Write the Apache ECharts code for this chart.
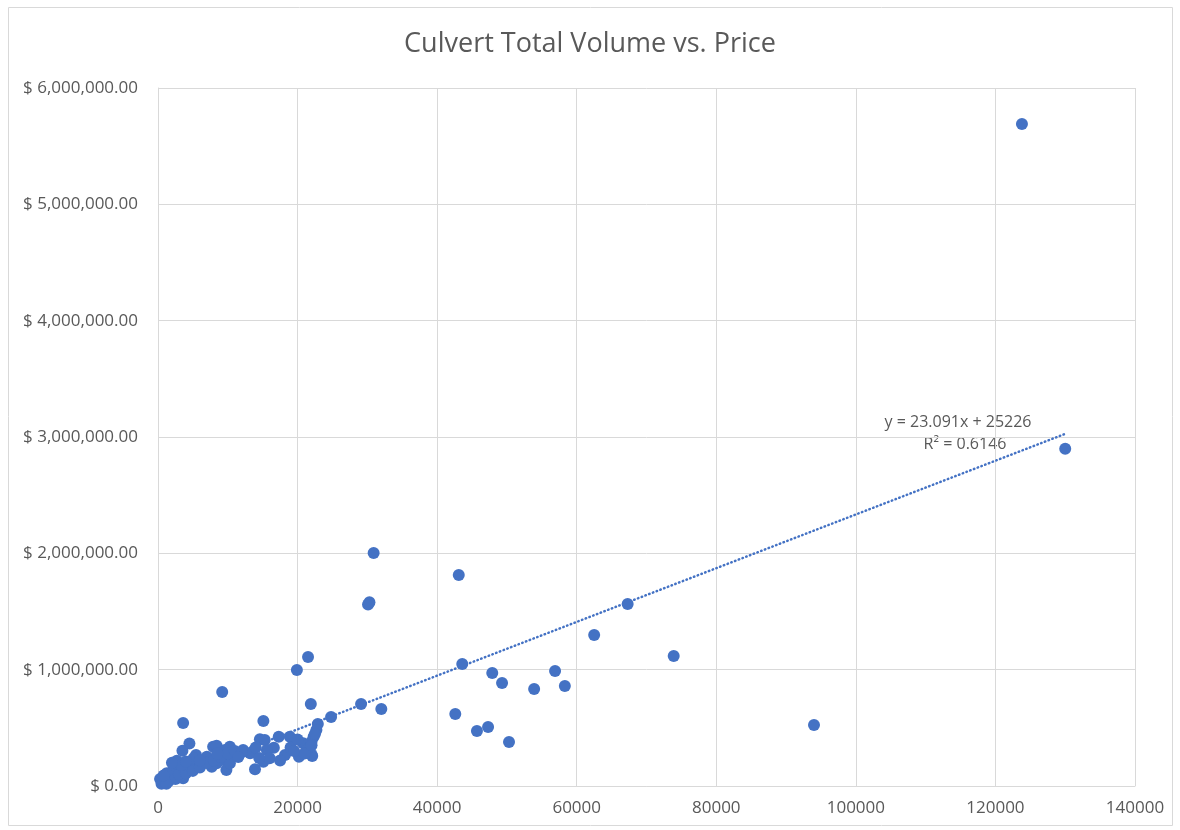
<!DOCTYPE html>
<html><head><meta charset="utf-8">
<script src="https://cdn.jsdelivr.net/npm/echarts@6/dist/echarts.min.js"></script>
<style>html,body{margin:0;padding:0;background:#fff}#c{width:1180px;height:830px}</style>
</head><body><div id="c"></div>
<script>
const titleText = 'Culvert Total Volume vs. Price';
const volumes = [123800,130000,94000,73900,67300,62500,56900,58300,53900,49300,47900,50300,47300,45700,42600,43600,43100,30900,30100,30300,32000,29100,24800,22900,22700,21500,19900,21900,3600,9200,15100,
4500,3500,5450,2700,7900,8400,10300,12200,14600,15300,16600,17300,18900,18200,13900,20200,22100,20800,22300,22000,21800,21300,15600,13200,15100,16000,10800,9400,8400,9800,7700,6500,5500,4600,3600,2700,3600,1700,1000,760,1250,2200,5100,7000,10300,9600,
500,300,1500,2000,2500,3000,4000,5000,6000,7000,8000,9000,10000,11000,12000,14000,19000,20000,21000,22000,1200,800,3300,6000,8500,11500,14500,17500,19500,22500,2000,4000,22000];
const prices = [5690000,2900000,524000,1118000,1565000,1298000,989000,860000,834000,886000,972000,378000,507000,473000,619000,1049000,1814000,2003000,1560000,1580000,662000,705000,593000,533000,481000,1109000,997000,705000,542000,808000,559000,
366000,304000,267000,218000,338000,345000,338000,310000,401000,395000,329000,424000,424000,267000,143000,252000,258000,367000,424000,270000,338000,310000,310000,281000,209000,238000,252000,224000,195000,138000,166000,195000,181000,152000,138000,123000,66000,95000,66000,37000,109000,143000,238000,252000,195000,310000,
20000,60000,40000,80000,60000,100000,110000,130000,160000,200000,220000,250000,280000,300000,290000,330000,330000,400000,280000,380000,20000,90000,180000,220000,280000,250000,240000,220000,300000,450000,200000,210000,350000];
const xTicks = [0,20000,40000,60000,80000,100000,120000,140000];
const yTicks = [0,1000000,2000000,3000000,4000000,5000000,6000000];
const trendSlope = 23.091, trendIntercept = 25226, trendR2 = 0.6146;

const pts = volumes.map((v,i)=>[v, prices[i]]);
const xMinD = Math.min(...volumes), xMaxD = Math.max(...volumes);
const trend = [[xMinD, trendSlope*xMinD+trendIntercept],[xMaxD, trendSlope*xMaxD+trendIntercept]];
function money(v){const s=Math.round(v).toString().replace(/\B(?=(\d{3})+(?!\d))/g,',');return '$ '+s+'.00';}
const FONT = "'Open Sans', sans-serif";
const chart = echarts.init(document.getElementById('c'));
chart.setOption({
  animation:false,
  title:{text:titleText,left:'center',top:26,textStyle:{fontFamily:FONT,fontSize:27,fontWeight:'normal',color:'#595959'}},
  grid:{left:158,right:45,top:88,bottom:44},
  xAxis:{type:'value',min:xTicks[0],max:xTicks[xTicks.length-1],interval:20000,
    axisLine:{show:true,lineStyle:{color:'#d9d9d9'}},axisTick:{show:false},
    splitLine:{show:true,lineStyle:{color:'#d9d9d9'}},
    axisLabel:{margin:14,fontFamily:FONT,fontSize:17,color:'#595959',formatter:v=>String(v)}},
  yAxis:{type:'value',min:yTicks[0],max:yTicks[yTicks.length-1],interval:1000000,
    axisLine:{show:true,lineStyle:{color:'#d9d9d9'}},axisTick:{show:false},
    splitLine:{show:true,lineStyle:{color:'#d9d9d9'}},
    axisLabel:{margin:20,fontFamily:FONT,fontSize:17,color:'#595959',formatter:money}},
  graphic:[{type:'rect',shape:{x:8.5,y:7.5,width:1164,height:818},style:{fill:'none',stroke:'#d9d9d9',lineWidth:1},z:-1},
    {type:'text',x:958,y:422,style:{text:'y = 23.091x + 25226',fontFamily:FONT,fontSize:16,fill:'#595959',align:'center',verticalAlign:'middle'}},
    {type:'text',x:965,y:444,style:{text:'R² = '+trendR2,fontFamily:FONT,fontSize:16,fill:'#595959',align:'center',verticalAlign:'middle'}}],
  series:[
    {type:'scatter',data:pts,symbol:'circle',symbolSize:12,itemStyle:{color:'#4472C4',opacity:1},z:3},
    {type:'line',data:trend,symbol:'none',lineStyle:{color:'#4472C4',width:2.5,type:[0.5,3.5],cap:'round'},z:2}
  ]
});
</script></body></html>
